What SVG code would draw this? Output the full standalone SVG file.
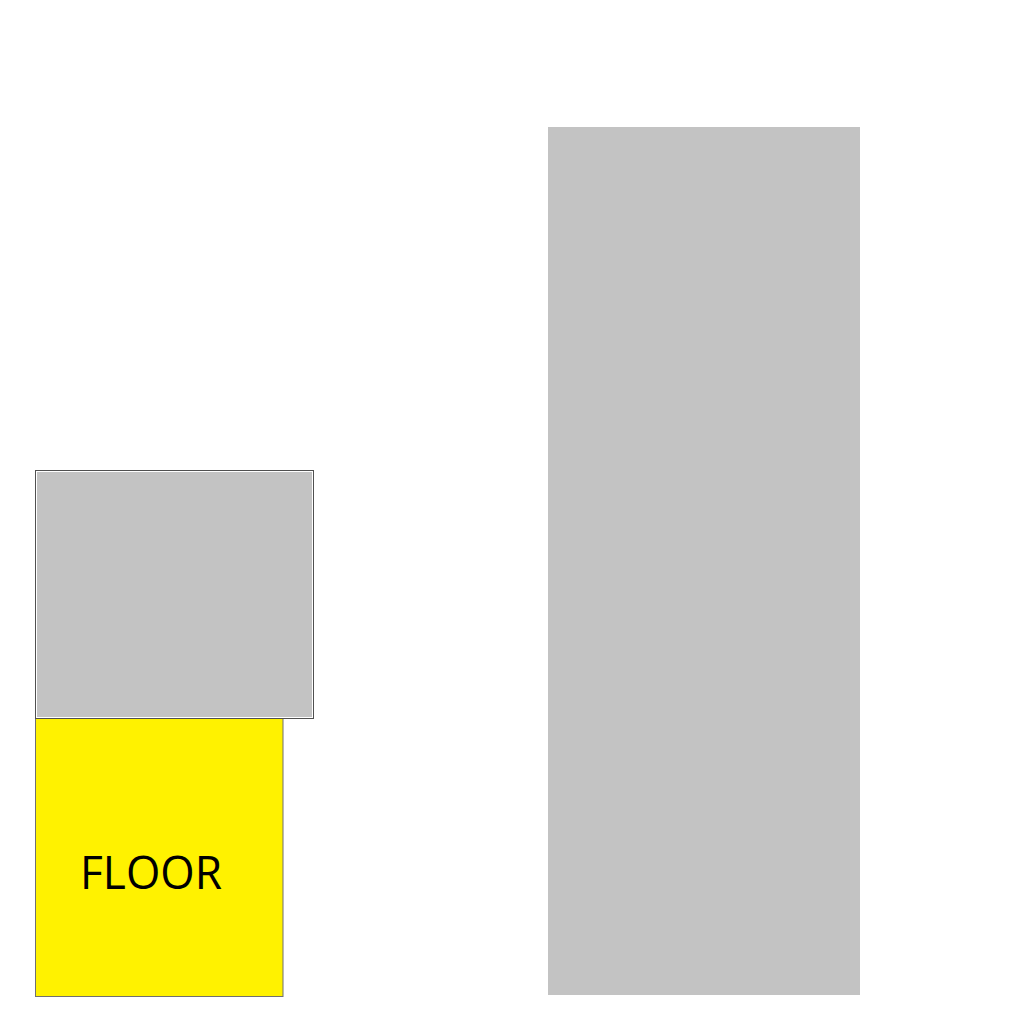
<svg xmlns="http://www.w3.org/2000/svg" width="1024" height="1024" viewBox="0 0 1024 1024">
<style>
.gray{fill:#c3c3c3}
.label{font-family:"Open Sans","Liberation Sans",sans-serif;font-size:46px;fill:#000}
</style>
<rect width="1024" height="1024" fill="#fff"/>
<g id="tall-block"><rect class="gray" x="548" y="127" width="312" height="868"/></g>
<g id="floor">
<rect x="35.5" y="718.5" width="247.5" height="278" fill="#fff200" stroke="#707070" stroke-width="1"/>
<text class="label" x="80" y="889" textLength="142" lengthAdjust="spacingAndGlyphs">FLOOR</text>
</g>
<g id="upper-block">
<rect x="35.5" y="470.5" width="278" height="248" fill="#fff" stroke="#505050" stroke-width="1"/>
<rect class="gray" x="37" y="472" width="275" height="245"/>
</g>
<g id="connectors"/>
</svg>
